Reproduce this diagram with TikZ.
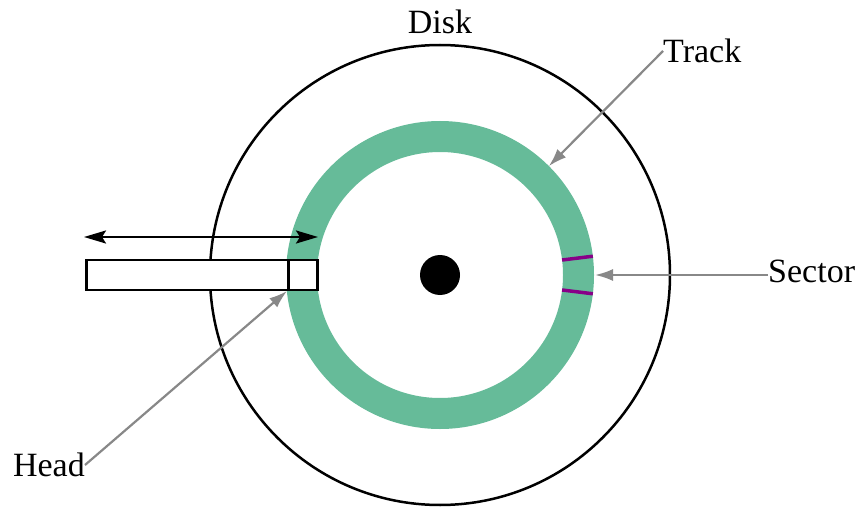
\documentclass[tikz,border=0pt]{standalone}
\usepackage{fontspec}
\setmainfont{Liberation Serif}
\usetikzlibrary{arrows.meta,calc}
\definecolor{trackgreen}{RGB}{102,187,153}
\definecolor{pointer}{RGB}{136,136,136}
\definecolor{sectorc}{RGB}{136,0,136}
\begin{document}
\begin{tikzpicture}[x=1pt,y=1pt,
  lbl/.style={inner sep=0pt,font=\fontsize{34}{40}\selectfont},
  ptr/.style={draw=pointer,line width=2.2pt,-{Latex[length=18pt,width=12pt]}},
  mover/.style={line width=2.5pt,{Stealth[length=22pt,width=13pt,inset=4pt]}-{Stealth[length=22pt,width=13pt,inset=4pt]}},
  sectormark/.style={draw=sectorc,line width=3.5pt}]
\useasboundingbox (0,0) rectangle (857,507);
\coordinate (c) at (440,232);
% disk
\node[circle,draw,line width=2.5pt,minimum size=460pt,inner sep=0pt] (disk) at (c) {};
% track ring
\node[circle,draw=trackgreen,line width=31pt,minimum size=277pt,inner sep=0pt] (track) at (c) {};
% hub
\node[circle,fill=black,minimum size=40pt,inner sep=0pt] (hub) at (c) {};
% sector marks
\draw[sectormark] ($(c)+(7:123)$) -- ($(c)+(7:154)$);
\draw[sectormark] ($(c)+(-7:123)$) -- ($(c)+(-7:154)$);
% head arm
\node[draw,fill=white,line width=2.5pt,minimum width=231pt,minimum height=30pt,inner sep=0pt,anchor=south west] (arm) at (85,216) {};
\node[draw,fill=white,line width=2.5pt,minimum width=29pt,minimum height=30pt,inner sep=0pt,anchor=south east] (head) at (arm.south east) {};
\coordinate (al) at (84,270);
\coordinate (ar) at (318,270);
\draw[mover] (al) -- (ar);
% labels
\node[lbl] (disklbl) at (440,485) {Disk};
\node[lbl,anchor=west] (tracklbl) at (663,456) {Track};
\node[lbl,anchor=west] (sectorlbl) at (768,236) {Sector};
\node[lbl,anchor=east] (headlbl) at (85,42) {Head};
% pointers
\coordinate (trackpt) at ($(c)+(45:154)$);
\coordinate (sectorpt) at ($(c)+(0:155)$);
\draw[ptr] (tracklbl.west) -- (trackpt);
\draw[ptr] (sectorlbl.west |- sectorpt) -- (sectorpt);
\draw[ptr] (headlbl.east) -- (head.south west);
\end{tikzpicture}
\end{document}
